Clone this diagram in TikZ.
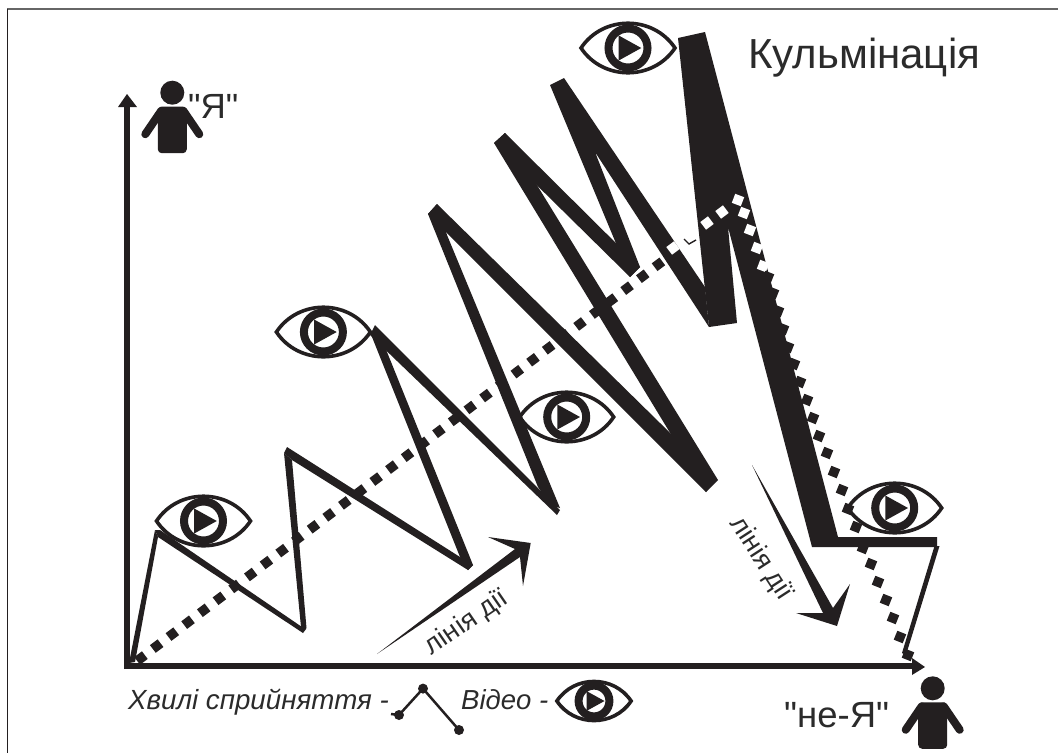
\documentclass[tikz,border=0pt]{standalone}
\usepackage{fontspec}
\setmainfont{Liberation Sans}[Ligatures=TeXOff]
\definecolor{ink}{HTML}{231F20}
\definecolor{txt}{HTML}{2B2B2B}
\tikzset{
  wave/.style={fill=ink,draw=none},
  axisline/.style={draw=ink,line width=6pt},
  label/.style={inner sep=0pt,text=txt},
  eyeicon/.pic={
    \draw[ink,line width=3.6pt,miter limit=10] (-47,0) .. controls (-25,-33) and (25,-33) .. (47,0) .. controls (25,33) and (-25,33) .. (-47,0) -- cycle;
    \draw[ink,line width=8pt] (0,0) circle (19.5);
    \fill[ink] (-9.3,-12.5) -- (13.3,0) -- (-9.3,12.5) -- cycle;
  },
  figure/.pic={
    \fill[ink] (0,0) circle (12);
    \fill[ink,rounded corners=4pt] (-14.5,14) rectangle (14.5,60.5);
    \draw[ink,line width=8pt,line cap=round] (-11,18) -- (-27,41.5);
    \draw[ink,line width=8pt,line cap=round] (11,18) -- (27,41.5);
  }
}
\newcommand{\dotsq}[3]{\fill[#1,shift={(#2)},rotate=#3] (-4.8,-4.8) rectangle (4.8,4.8);}
\begin{document}
\begin{tikzpicture}[x=1pt,y=-1pt]
\useasboundingbox (0,0) rectangle (1058,753);
\fill[white] (0,0) rectangle (1058,753);
% frame
\draw[black!60,line width=1.6pt] (7,9) -- (1058,9);
\draw[ink,line width=1.2pt] (7.5,8.5) -- (7.5,753);
% axes
\coordinate (org) at (127,666);
\coordinate (ytop) at (127,104);
\coordinate (xend) at (915,666);
\draw[axisline] (127,669) -- (ytop);
\draw[axisline] (124,666) -- (xend);
\fill[ink] (127,94) -- (137,107) -- (118,107) -- cycle;
\fill[ink] (925,667) -- (912,675) -- (912,658) -- cycle;
% wave segments
\fill[wave] (155,530) -- (158,537) -- (135,662) -- (129,663) -- cycle;
\fill[wave] (155,530) -- (160,530) -- (302,627) -- (306,629) -- (303,633) -- (158,537) -- cycle;
\fill[wave] (284,453) -- (292,460) -- (306.5,628) -- (303,632) -- (301,627) -- cycle;
\fill[wave] (284,453) -- (287,447) -- (460,557) -- (473,565) -- (468,570) -- (292,460) -- cycle;
\fill[wave] (370,332) -- (385,347) -- (473,565) -- (468,570) -- (460,557) -- cycle;
\fill[wave] (375,325) -- (560,510) -- (557,515) -- (370,335) -- cycle;
\fill[wave] (428,214) -- (437,204) -- (447,235) -- (560,508) -- (550,505) -- (538,487) -- cycle;
\fill[wave] (437,204) -- (716,478) -- (706,492) -- (428,214) -- cycle;
\fill[wave] (494,143) -- (505,133) -- (718,480) -- (706,492) -- cycle;
\fill[wave] (505,133) -- (640,267) -- (630,277) -- (494,143) -- cycle;
\fill[wave] (550,85) -- (564,78) -- (705,287) -- (709,327) -- (595,152) -- (640,267) -- (630,277) -- cycle;
\fill[wave] (678,38) -- (705,32) -- (838,537) -- (937,537) -- (937,547) -- (812,547) -- (728,227) -- (737,323) -- (709,327) -- cycle;
\fill[wave] (934.5,546) -- (939.5,546) -- (906,655) -- (902,653) -- cycle;
% dotted line, rising part
\foreach \k in {0,...,33}{
  \dotsq{ink}{{141+15.68*\k},{658-11.93*\k}}{37}
}
\foreach \p in {{673,248},{707,223},{722,212}}{
  \dotsq{white}{\p}{37}
}
\draw[ink,line width=1.4pt] (684,239) -- (689,244) -- (696,240);
% dotted line, falling part
\foreach \p in {{738,200},{744,213},{750,230},{757,248},{763,266}}{
  \dotsq{white}{\p}{-21}
}
\foreach \p in {{768,277},{773,293},{778,311},{783,329},{788,347},{794,364},{800,382},{807,400},{813,418},{819,436},{827,453},{834,472},{842,490},{848,509},{856,527},{863,548},{871,564},{878,582},{886,600},{893,618},{900,637},{908,655}}{
  \dotsq{ink}{\p}{-22}
}
% eyes
\pic at (203.5,521) {eyeicon};
\pic at (628,48) {eyeicon};
\pic at (323.4,332) {eyeicon};
\pic at (566.7,417) {eyeicon};
\pic at (894.7,508) {eyeicon};
\pic[scale=0.79] at (594,701) {eyeicon};
% figures
\pic at (172.3,92.7) {figure};
\pic at (932.7,688.3) {figure};
% direction arrows
\fill[ink] (377,654) -- (515,549) -- (488,537) -- (530.7,543) -- (523,586) -- (520,557) -- cycle;
\fill[ink] (752,465) -- (833,608) -- (850,584) -- (837,626) -- (796,613) -- (823,613) -- cycle;
% labels
\node[label,anchor=base west,font=\fontsize{42}{42}\selectfont] (title) at (748,68) {Кульмінація};
\node[label,anchor=base west,font=\fontsize{35}{35}\selectfont] (ya) at (188,118) {"Я"};
\node[label,anchor=base west,font=\fontsize{36.5}{36.5}\selectfont] (neya) at (784,727) {"не-Я"};
\node[label,rotate=34.5,font=\fontsize{27}{27}\selectfont] (l1) at (466.7,623) {лінія дії};
\node[label,rotate=-57,font=\fontsize{27}{27}\selectfont] (l2) at (761,559) {лінія дії};
\node[label,anchor=base west,font=\itshape\fontsize{27.7}{27.7}\selectfont] (lg1) at (128,709) {Хвилі сприйняття -};
\node[label,anchor=base west,font=\itshape\fontsize{27.5}{27.5}\selectfont] (lg2) at (461,709) {Відео -};
% legend wave
\coordinate (w0) at (391,714);
\coordinate (w1) at (399,715);
\coordinate (w2) at (423,688.6);
\coordinate (w3) at (459,730);
\draw[ink,line width=2.5pt] (w0) -- (w1) -- (w2) -- (w3);
\fill[ink] (w1) circle (5);
\fill[ink] (w2) circle (5);
\fill[ink] (w3) circle (5);
\end{tikzpicture}
\end{document}
